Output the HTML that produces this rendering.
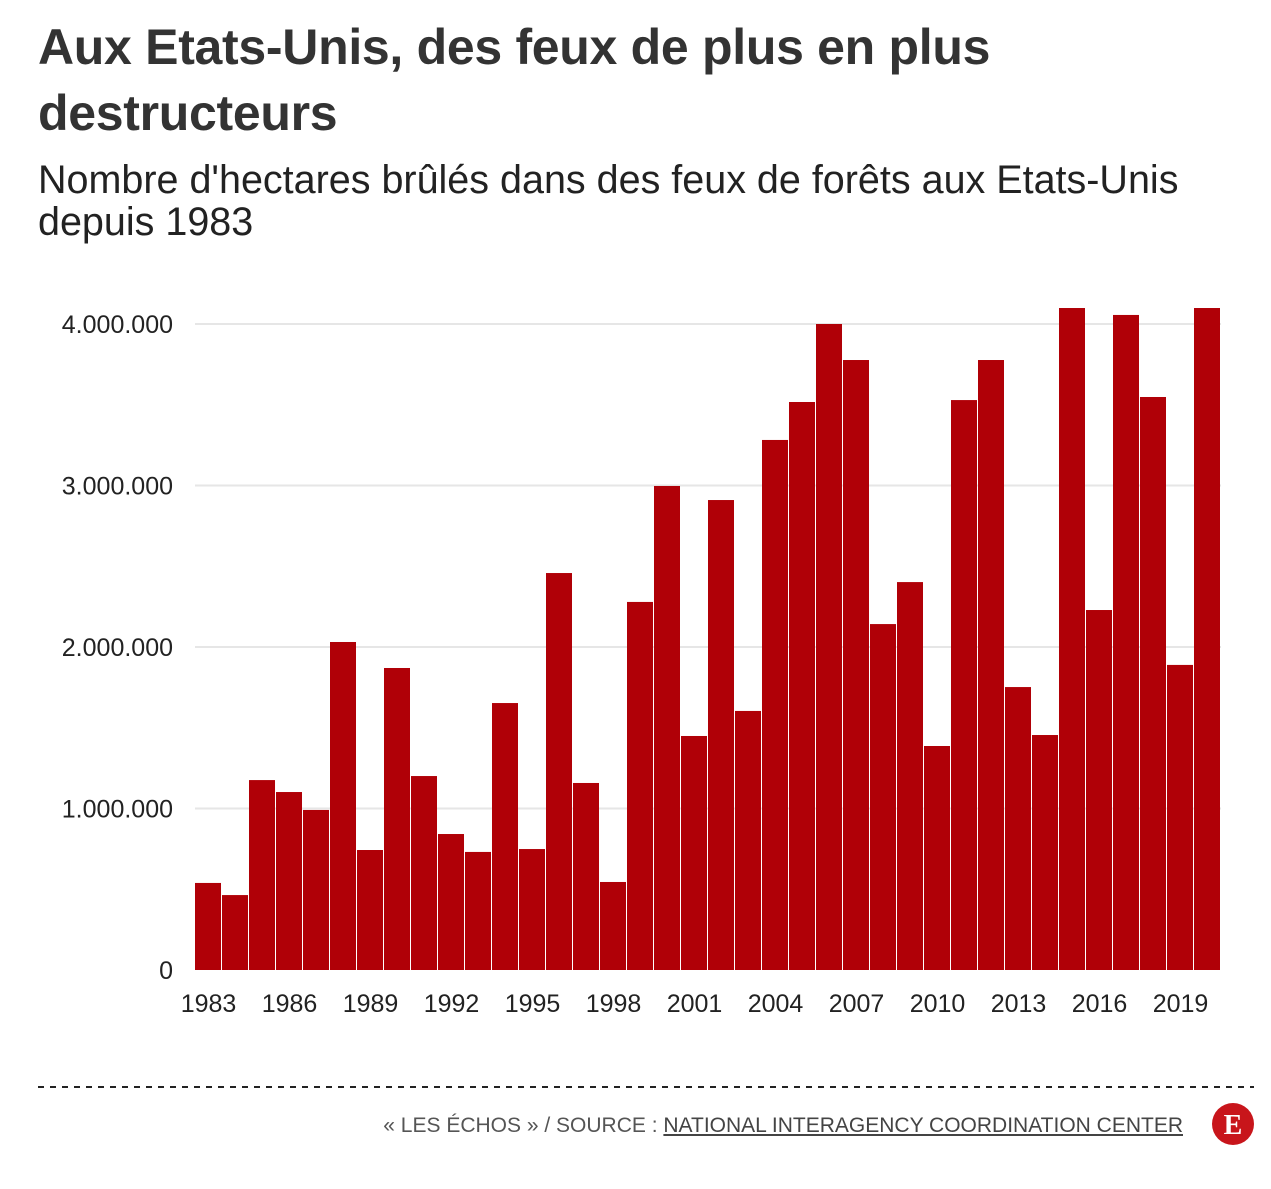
<!DOCTYPE html>
<html><head><meta charset="utf-8"><style>
body{margin:0;background:#fff;width:1271px;height:1189px;overflow:hidden;font-family:"Liberation Sans",sans-serif;position:relative}
#title{position:absolute;left:38px;top:14px;width:1050px;font-weight:bold;font-size:50px;line-height:66px;color:#333;letter-spacing:-0.3px}
#sub{position:absolute;left:38px;top:159px;width:1215px;font-size:39.5px;line-height:42px;color:#222;letter-spacing:0px}
#foot{position:absolute;right:88px;top:1114px;font-size:21px;color:#555}
#foot u{color:#444}
</style></head><body>
<div id="title">Aux Etats-Unis, des feux de plus en plus destructeurs</div>
<div id="sub">Nombre d'hectares brûlés dans des feux de forêts aux Etats-Unis depuis 1983</div>
<svg id="chart" width="1271" height="1189" style="position:absolute;left:0;top:0"></svg>
<div id="foot">« LES ÉCHOS » / SOURCE : <u>NATIONAL INTERAGENCY COORDINATION CENTER</u></div>
<svg width="46" height="46" style="position:absolute;left:1210px;top:1101px"><circle cx="23" cy="23" r="21" fill="#c8151b"/><text x="23" y="33" text-anchor="middle" font-family="Liberation Serif,serif" font-weight="bold" font-size="28" fill="#fff">E</text></svg>
<script>
const years=[1983,1984,1985,1986,1987,1988,1989,1990,1991,1992,1993,1994,1995,1996,1997,1998,1999,2000,2001,2002,2003,2004,2005,2006,2007,2008,2009,2010,2011,2012,2013,2014,2015,2016,2017,2018,2019,2020];
const values=[539000,464000,1176000,1102000,991000,2031000,743000,1870000,1201000,842000,731000,1653000,749000,2458000,1158000,545000,2279000,2997000,1449000,2910000,1604000,3282000,3517000,4000000,3777000,2142000,2402000,1387000,3529000,3777000,1752000,1455000,4099000,2229000,4056000,3548000,1889000,4099000];
const yTicks=[0,1000000,2000000,3000000,4000000];
const yTickLabels=["0","1.000.000","2.000.000","3.000.000","4.000.000"];
const xTickYears=[1983,1986,1989,1992,1995,1998,2001,2004,2007,2010,2013,2016,2019];
const svg=document.getElementById('chart');const NS='http://www.w3.org/2000/svg';
const x0=195,x1=1221,yb=970,ppm=161.5/1e6;
const bw=(x1-x0)/years.length;
const X=y=>x0+(y-years[0])*bw;
const Y=v=>yb-v*ppm;
function mk(t,a){const e=document.createElementNS(NS,t);for(const k in a)e.setAttribute(k,a[k]);svg.appendChild(e);return e;}
yTicks.forEach((v,i)=>{
 if(v>0){const l=mk('line',{x1:x0,x2:x1,y1:Y(v),y2:Y(v),stroke:'#e6e6e6','stroke-width':2});
 
 }
 const t=mk('text',{x:173,y:Y(v)+9,'text-anchor':'end','font-size':25,fill:'#222','font-family':'Liberation Sans,sans-serif'});t.textContent=yTickLabels[i];
 
 
});
values.forEach((v,i)=>{
 const r=mk('rect',{x:X(years[i]),y:Y(v),width:bw-1,height:yb-Y(v),fill:'#b00007'});
 
 
});
xTickYears.forEach(y=>{
 const t=mk('text',{x:X(y)+bw/2,y:1012,'text-anchor':'middle','font-size':25,fill:'#222','font-family':'Liberation Sans,sans-serif'});t.textContent=y;
 
 
});
const d=mk('line',{x1:38,x2:1254,y1:1087,y2:1087,stroke:'#222','stroke-width':2,'stroke-dasharray':'6,6'});


</script>
</body></html>
